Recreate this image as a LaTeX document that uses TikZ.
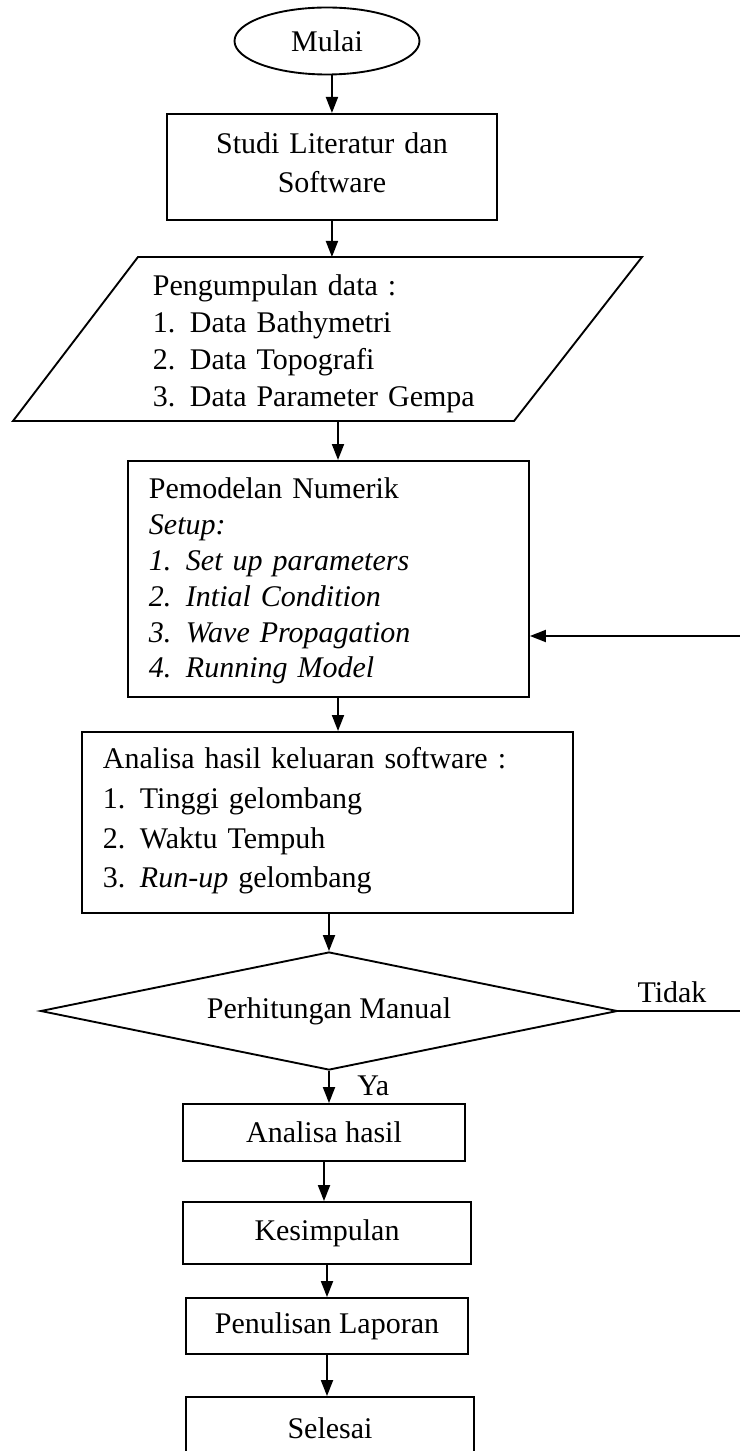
\documentclass[tikz,border=0pt]{standalone}
\usepackage{fontspec}
\setmainfont{Liberation Serif}
\usetikzlibrary{shapes.geometric,arrows.meta}

\newcommand{\numitem}[2]{\makebox[14.8pt][l]{#1}#2}

\begin{document}
\begin{tikzpicture}[
        x=0.4pt, y=-0.4pt,
        line width=0.75pt,
        font=\fontsize{12pt}{14.4pt}\selectfont,
        >={Triangle[length=6.4pt,width=4.8pt]},
        box/.style={draw, rectangle, anchor=north west, inner ysep=0pt, inner xsep=8.4pt, align=left},
        plain/.style={draw, rectangle, inner sep=0pt},
        terminal/.style={draw, ellipse, inner sep=0pt, minimum width=74pt, minimum height=26.8pt},
        decision/.style={draw, diamond, aspect=4.9, inner sep=0pt, minimum width=230.8pt, minimum height=47.2pt},
      ]
      \useasboundingbox (0,0) rectangle (739,1451);

      \node[terminal] (mulai) at (327,41) {Mulai};
      \node[box, align=center, inner xsep=0pt, text width=132pt, text height=16pt, text depth=26.4pt,
            font=\fontsize{12pt}{15.6pt}\selectfont] (studi) at (166,113) {Studi Literatur dan\\Software};

      \draw (138,257) -- (642,257) -- (514,421) -- (13,421) -- cycle;
      \coordinate (datain) at (333,257);
      \coordinate (dataout) at (338,421);
      \node[anchor=north west, inner sep=0pt, text width=160pt, align=left, text height=15.2pt,
            font=\fontsize{12pt}{14.8pt}\selectfont] (data) at (152,257)
            {Pengumpulan data :\\ \numitem{1.}{Data Bathymetri}\\ \numitem{2.}{Data Topografi}\\ \numitem{3.}{Data Parameter Gempa}};

      \node[box, text width=143.6pt, text height=15.2pt, text depth=79.2pt,
            font=\fontsize{12pt}{14.32pt}\selectfont] (model) at (127,460)
            {Pemodelan Numerik\\ \textit{Setup:}\\
             \numitem{\textit{1.}}{\textit{Set up parameters}}\\
             \numitem{\textit{2.}}{\textit{Intial Condition}}\\
             \numitem{\textit{3.}}{\textit{Wave Propagation}}\\
             \numitem{\textit{4.}}{\textit{Running Model}}};

      \node[box, text width=179.6pt, text height=14.8pt, text depth=57.6pt,
            font=\fontsize{12pt}{15.87pt}\selectfont] (keluaran) at (81,731)
            {Analisa hasil keluaran software :\\ \numitem{1.}{Tinggi gelombang}\\ \numitem{2.}{Waktu Tempuh}\\ \numitem{3.}{\textit{Run-up} gelombang}};

      \node[decision] (manual) at (329,1011) {Perhitungan Manual};

      \node[plain, minimum width=112.8pt, minimum height=22.8pt] (hasil) at (324,1132.5) {Analisa hasil};
      \node[plain, minimum width=115.2pt, minimum height=24.8pt] (kesimpulan) at (327,1233) {Kesimpulan};
      \node[plain, minimum width=112.8pt, minimum height=22.4pt] (laporan) at (327,1326) {Penulisan Laporan};
      \node[plain, minimum width=115.2pt, minimum height=24.8pt] (selesai) at (330,1428) {Selesai};

      \node[anchor=base] (tidak) at (672,1002) {Tidak};
      \node[anchor=base west] (ya) at (348,1095) {Ya};
      \coordinate (balik) at (760,636);

      \draw[->] (mulai.south -| studi.north) -- (studi.north);
      \draw[->] (studi.south) -- (studi.south |- datain);
      \draw[->] (dataout) -- (dataout |- model.north);
      \draw[->] (dataout |- model.south) -- (dataout |- keluaran.north);
      \draw[->] (keluaran.south -| manual.north) -- (manual.north);
      \draw[->] (manual.south) -- (manual.south |- hasil.north);
      \draw[->] (hasil.south) -- (hasil.south |- kesimpulan.north);
      \draw[->] (kesimpulan.south) -- (laporan.north);
      \draw[->] (laporan.south) -- (laporan.south |- selesai.north);
      \draw[->] (manual.east) -- (manual.east -| balik) -- (balik) -- (balik -| model.east);

    \end{tikzpicture}
\end{document}
